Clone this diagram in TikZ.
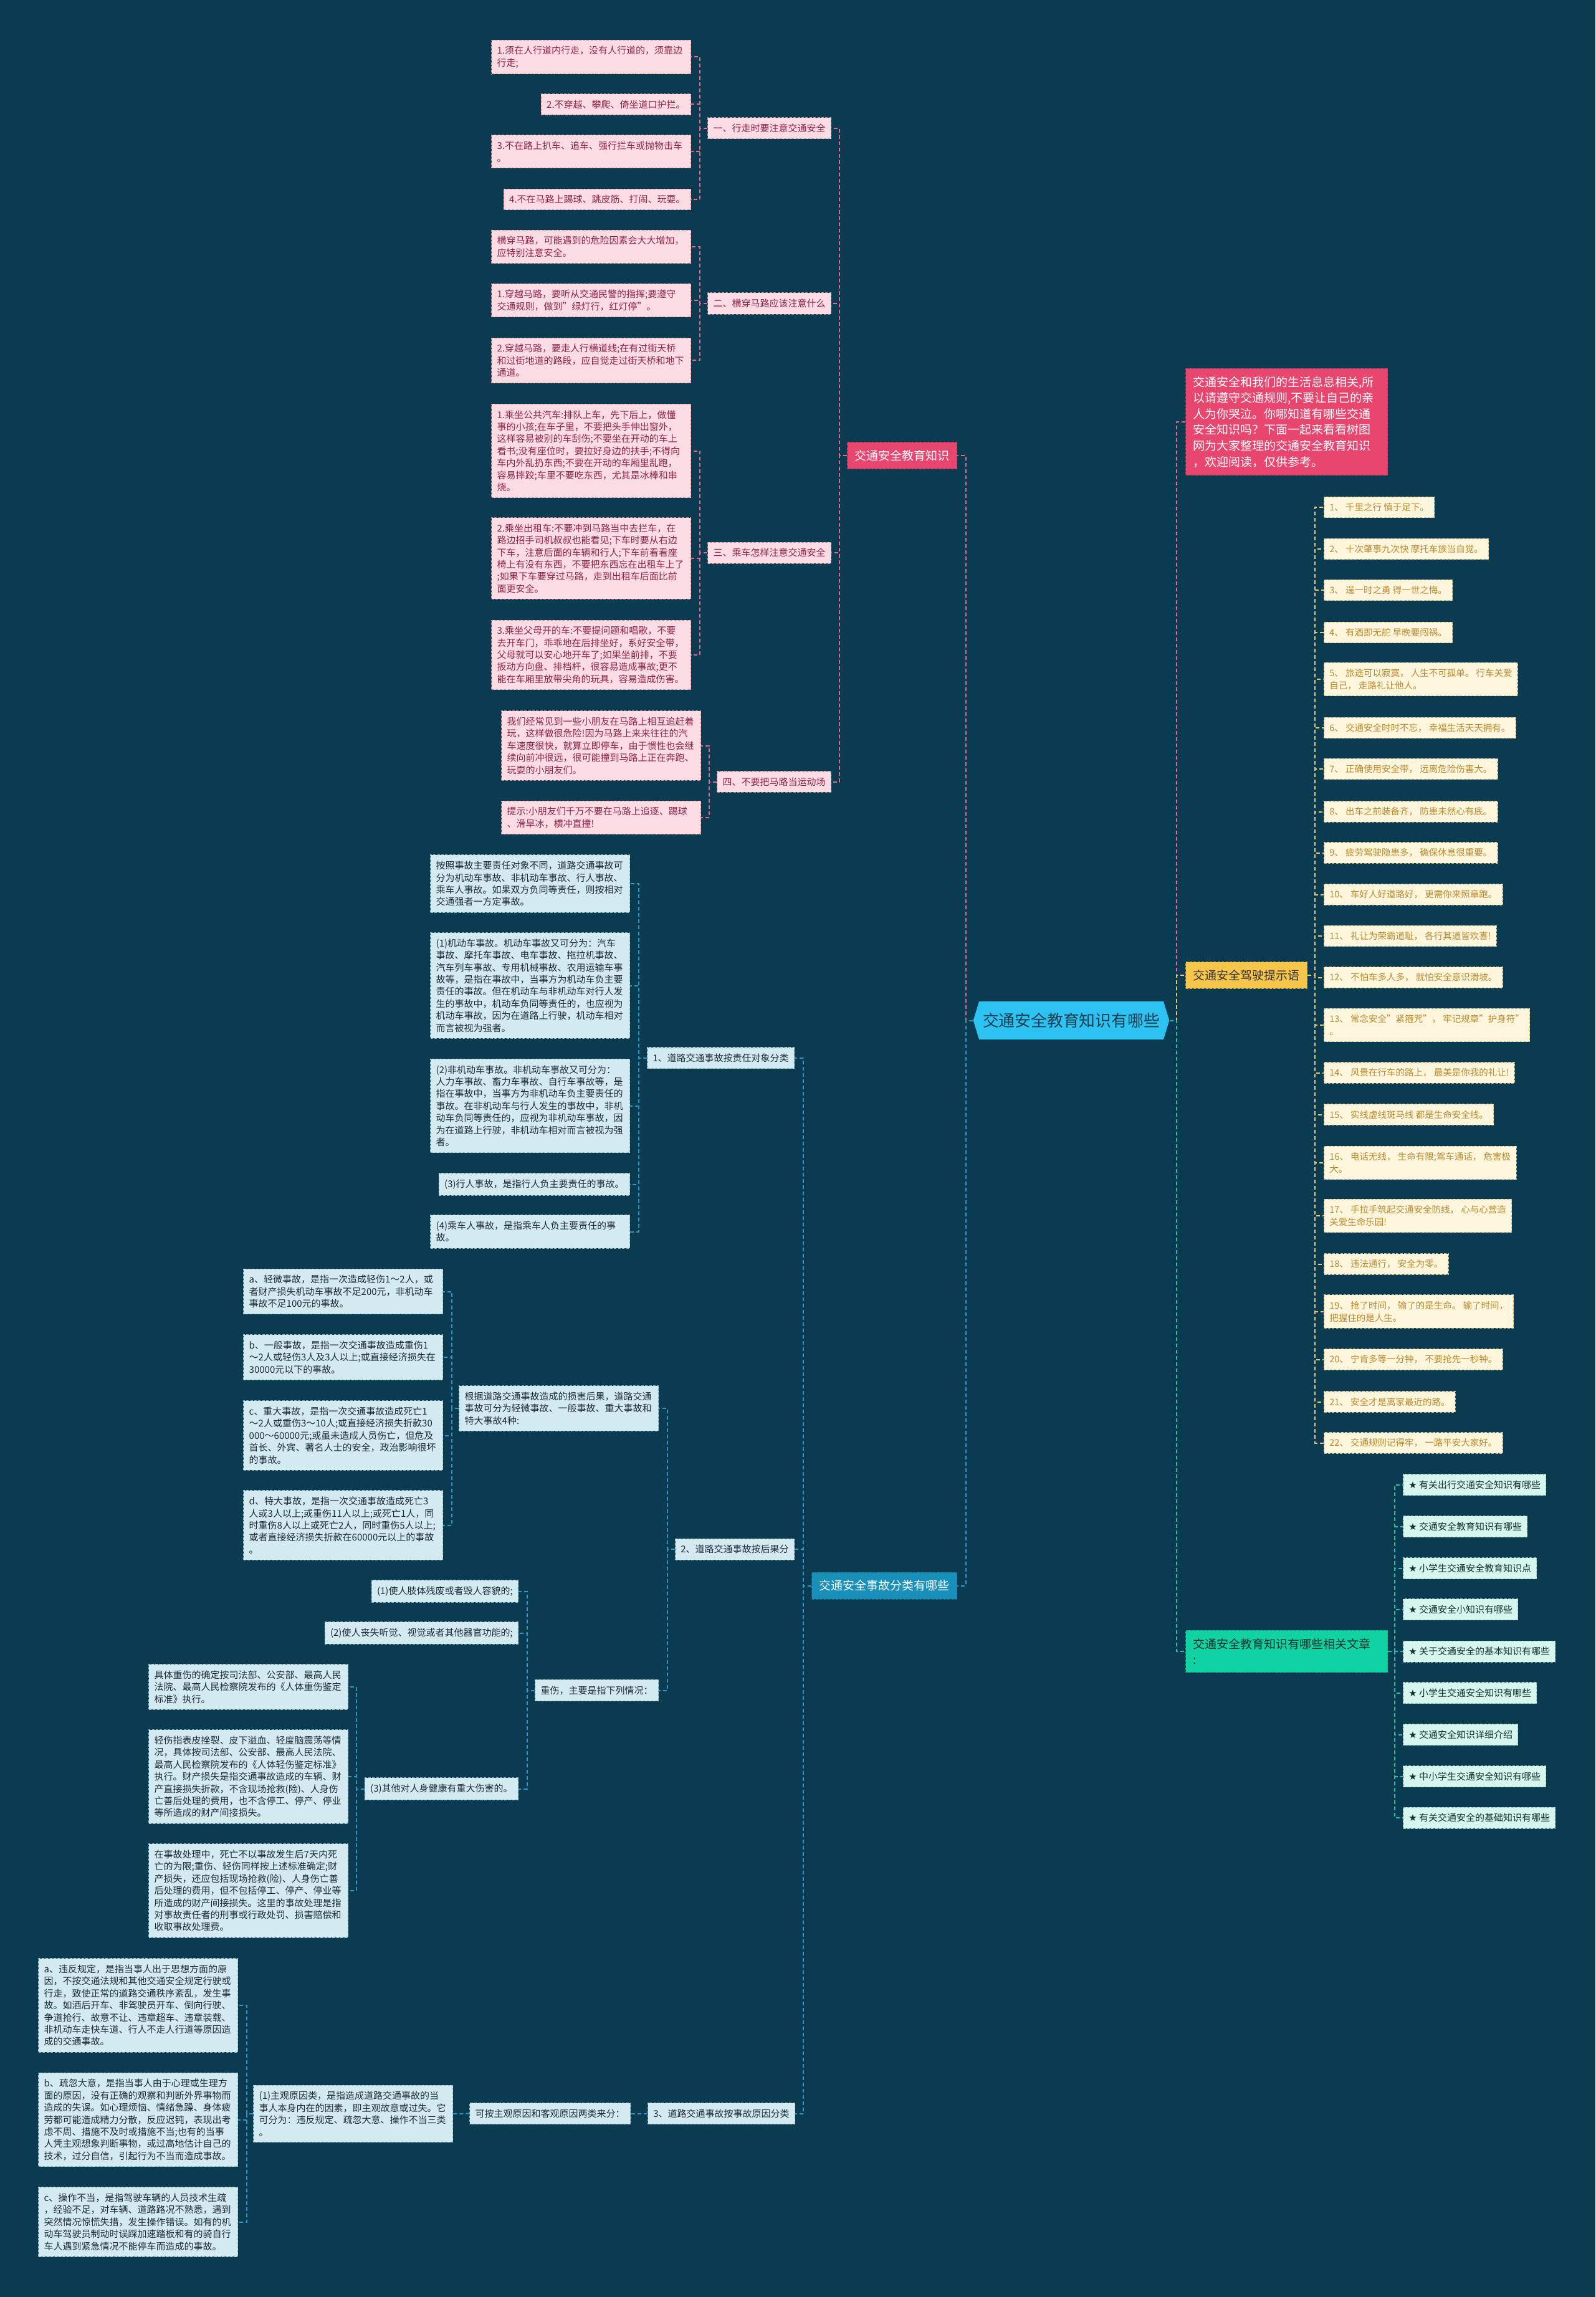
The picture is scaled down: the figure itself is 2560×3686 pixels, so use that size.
\documentclass[tikz,border=0pt]{standalone}
\usepackage{fontspec}
\setmainfont{Noto Sans CJK SC}
\newfontfamily\dejavu{DejaVu Sans}
\usetikzlibrary{shapes.symbols}
\definecolor{bgc}{HTML}{0B3B50}
\definecolor{pinkmain}{HTML}{E8466F}
\definecolor{pinkleaf}{HTML}{FBDCE2}
\definecolor{pinkedge}{HTML}{C98C9C}
\definecolor{pinktext}{HTML}{8E2445}
\definecolor{pinkconn}{HTML}{E0698E}
\definecolor{bluemain}{HTML}{1890B9}
\definecolor{blueleaf}{HTML}{D4EAF1}
\definecolor{blueedge}{HTML}{8DB6C6}
\definecolor{bluetext}{HTML}{1E2B33}
\definecolor{blueconn}{HTML}{2C98C4}
\definecolor{rootc}{HTML}{2CC3F2}
\definecolor{roottext}{HTML}{1B3D50}
\definecolor{ymain}{HTML}{F6C54A}
\definecolor{yleaf}{HTML}{FDF5DC}
\definecolor{yedge}{HTML}{C8B88A}
\definecolor{ytext}{HTML}{B88A2E}
\definecolor{yconn}{HTML}{E9C66B}
\definecolor{gmain}{HTML}{10D3A3}
\definecolor{gleaf}{HTML}{D6F6EE}
\definecolor{gedge}{HTML}{8CC9BA}
\definecolor{gtext}{HTML}{14302C}
\definecolor{gconn}{HTML}{23C2A2}
\begin{document}
\begin{tikzpicture}[x=0.5pt,y=-0.5pt,
  leaf/.style={rectangle, inner xsep=4.4pt, inner ysep=5pt, align=left,
    font=\fontsize{7.5}{9.7}\selectfont, line width=0.5pt, dash pattern=on 2pt off 1.2pt},
  pleaf/.style={leaf, fill=pinkleaf, draw=pinkedge, text=pinktext},
  pwide/.style={pleaf, text width=151pt},
  bleaf/.style={leaf, fill=blueleaf, draw=blueedge, text=bluetext},
  bwide/.style={bleaf, text width=151pt},
  sleaf/.style={leaf, font=\fontsize{7.25}{10}\selectfont, fill=yleaf, draw=yedge, text=ytext},
  aleaf/.style={leaf, fill=gleaf, draw=gedge, text=gtext},
  mainnode/.style={rectangle, inner xsep=6pt, inner ysep=6.3pt, align=left,
    font=\fontsize{9.5}{12.8}\selectfont, line width=0.5pt, dash pattern=on 2pt off 1.2pt},
  conn/.style={line width=1pt, dash pattern=on 3pt off 2pt},
  pconn/.style={conn, draw=pinkconn},
  bconn/.style={conn, draw=blueconn},
  yconnst/.style={conn, draw=yconn},
  gconnst/.style={conn, draw=gconn}]
\useasboundingbox (0,0) rectangle (2560,3686);
\fill[bgc] (0,0) rectangle (2560,3686);

% ---------- root ----------
\node[signal, signal to=west and east, signal pointer angle=146, fill=rootc, text=roottext,
  font=\fontsize{12.9}{15}\selectfont, inner xsep=3pt, inner ysep=9.3pt] (root) at (1719,1637.5) {交通安全教育知识有哪些};

% ---------- pink section ----------
\node[mainnode, anchor=west, fill=pinkmain, draw=pinkmain!80!black, text=white] (PM) at (1359,731) {交通安全教育知识};

\node[pleaf, anchor=east] (H1) at (1334,206) {一、行走时要注意交通安全};
\node[pwide, anchor=east] (P1a) at (1109,91.5) {1.须在人行道内行走，没有人行道的，须靠边\\行走;};
\node[pleaf, anchor=east] (P1b) at (1109,167.5) {2.不穿越、攀爬、倚坐道口护拦。};
\node[pwide, anchor=east] (P1c) at (1109,243.5) {3.不在路上扒车、追车、强行拦车或抛物击车\\。};
\node[pleaf, anchor=east] (P1d) at (1109,320) {4.不在马路上踢球、跳皮筋、打闹、玩耍。};

\node[pleaf, anchor=east] (H2) at (1334,487) {二、横穿马路应该注意什么};
\node[pwide, anchor=east] (P2a) at (1109,396) {横穿马路，可能遇到的危险因素会大大增加，\\应特别注意安全。};
\node[pwide, anchor=east] (P2b) at (1109,482) {1.穿越马路，要听从交通民警的指挥;要遵守\\交通规则，做到"绿灯行，红灯停"。};
\node[pwide, anchor=east] (P2c) at (1109,578.5) {2.穿越马路，要走人行横道线;在有过街天桥\\和过街地道的路段，应自觉走过街天桥和地下\\通道。};

\node[pleaf, anchor=east] (H3) at (1334,887) {三、乘车怎样注意交通安全};
\node[pwide, anchor=east] (P3a) at (1109,723.5) {1.乘坐公共汽车:排队上车，先下后上，做懂\\事的小孩;在车子里，不要把头手伸出窗外，\\这样容易被别的车刮伤;不要坐在开动的车上\\看书;没有座位时，要拉好身边的扶手;不得向\\车内外乱扔东西;不要在开动的车厢里乱跑，\\容易摔跤;车里不要吃东西，尤其是冰棒和串\\烧。};
\node[pwide, anchor=east] (P3b) at (1109,896) {2.乘坐出租车:不要冲到马路当中去拦车，在\\路边招手司机叔叔也能看见;下车时要从右边\\下车，注意后面的车辆和行人;下车前看看座\\椅上有没有东西，不要把东西忘在出租车上了\\;如果下车要穿过马路，走到出租车后面比前\\面更安全。};
\node[pwide, anchor=east] (P3c) at (1109,1051) {3.乘坐父母开的车:不要提问题和唱歌，不要\\去开车门，乖乖地在后排坐好，系好安全带，\\父母就可以安心地开车了;如果坐前排，不要\\扳动方向盘、排档杆，很容易造成事故;更不\\能在车厢里放带尖角的玩具，容易造成伤害。};

\node[pleaf, anchor=east] (H4) at (1334,1254.5) {四、不要把马路当运动场};
\node[pwide, anchor=east] (P4a) at (1125,1196.5) {我们经常见到一些小朋友在马路上相互追赶着\\玩，这样做很危险!因为马路上来来往往的汽\\车速度很快，就算立即停车，由于惯性也会继\\续向前冲很远，很可能撞到马路上正在奔跑、\\玩耍的小朋友们。};
\node[pwide, anchor=east] (P4b) at (1125,1312) {提示:小朋友们千万不要在马路上追逐、踢球\\、滑旱冰，横冲直撞!};

% ---------- blue section ----------
\node[mainnode, anchor=east, fill=bluemain, draw=bluemain!80!black, text=white] (BM) at (1536,2544.5) {交通安全事故分类有哪些};

\node[bleaf, anchor=east] (B1h) at (1275,1697.5) {1、道路交通事故按责任对象分类};
\node[bwide, anchor=east] (b1a) at (1011,1418) {按照事故主要责任对象不同，道路交通事故可\\分为机动车事故、非机动车事故、行人事故、\\乘车人事故。如果双方负同等责任，则按相对\\交通强者一方定事故。};
\node[bwide, anchor=east] (b1b) at (1011,1581.5) {(1)机动车事故。机动车事故又可分为：汽车\\事故、摩托车事故、电车事故、拖拉机事故、\\汽车列车事故、专用机械事故、农用运输车事\\故等，是指在事故中，当事方为机动车负主要\\责任的事故。但在机动车与非机动车对行人发\\生的事故中，机动车负同等责任的，也应视为\\机动车事故，因为在道路上行驶，机动车相对\\而言被视为强者。};
\node[bwide, anchor=east] (b1c) at (1011,1774.5) {(2)非机动车事故。非机动车事故又可分为：\\人力车事故、畜力车事故、自行车事故等，是\\指在事故中，当事方为非机动车负主要责任的\\事故。在非机动车与行人发生的事故中，非机\\动车负同等责任的，应视为非机动车事故，因\\为在道路上行驶，非机动车相对而言被视为强\\者。};
\node[bleaf, anchor=east] (b1d) at (1011,1900.5) {(3)行人事故，是指行人负主要责任的事故。};
\node[bwide, anchor=east] (b1e) at (1011,1976.5) {(4)乘车人事故，是指乘车人负主要责任的事\\故。};

\node[bleaf, anchor=east] (B2h) at (1275,2486) {2、道路交通事故按后果分};
\node[bwide, anchor=east] (B2) at (1057,2260) {根据道路交通事故造成的损害后果，道路交通\\事故可分为轻微事故、一般事故、重大事故和\\特大事故4种:};
\node[bwide, anchor=east] (b2a) at (711,2072.5) {a、轻微事故，是指一次造成轻伤1～2人，或\\者财产损失机动车事故不足200元，非机动车\\事故不足100元的事故。};
\node[bwide, anchor=east] (b2b) at (711,2178) {b、一般事故，是指一次交通事故造成重伤1\\～2人或轻伤3人及3人以上;或直接经济损失在\\30000元以下的事故。};
\node[bwide, anchor=east] (b2c) at (711,2303.5) {c、重大事故，是指一次交通事故造成死亡1\\～2人或重伤3～10人;或直接经济损失折款30\\000～60000元;或虽未造成人员伤亡，但危及\\首长、外宾、著名人士的安全，政治影响很坏\\的事故。};
\node[bwide, anchor=east] (b2d) at (711,2447.5) {d、特大事故，是指一次交通事故造成死亡3\\人或3人以上;或重伤11人以上;或死亡1人，同\\时重伤8人以上或死亡2人，同时重伤5人以上;\\或者直接经济损失折款在60000元以上的事故\\。};

\node[bleaf, anchor=east] (Inj) at (1057,2712.5) {重伤，主要是指下列情况：};
\node[bleaf, anchor=east] (i1) at (832,2553.5) {(1)使人肢体残废或者毁人容貌的;};
\node[bleaf, anchor=east] (i2) at (832,2620.5) {(2)使人丧失听觉、视觉或者其他器官功能的;};
\node[bleaf, anchor=east] (i3) at (832,2870.5) {(3)其他对人身健康有重大伤害的。};
\node[bwide, anchor=east] (i3a) at (559,2707) {具体重伤的确定按司法部、公安部、最高人民\\法院、最高人民检察院发布的《人体重伤鉴定\\标准》执行。};
\node[bwide, anchor=east] (i3b) at (559,2851) {轻伤指表皮挫裂、皮下溢血、轻度脑震荡等情\\况，具体按司法部、公安部、最高人民法院、\\最高人民检察院发布的《人体轻伤鉴定标准》\\执行。财产损失是指交通事故造成的车辆、财\\产直接损失折款，不含现场抢救(险)、人身伤\\亡善后处理的费用，也不含停工、停产、停业\\等所造成的财产间接损失。};
\node[bwide, anchor=east] (i3c) at (559,3034) {在事故处理中，死亡不以事故发生后7天内死\\亡的为限;重伤、轻伤同样按上述标准确定;财\\产损失，还应包括现场抢救(险)、人身伤亡善\\后处理的费用，但不包括停工、停产、停业等\\所造成的财产间接损失。这里的事故处理是指\\对事故责任者的刑事或行政处罚、损害赔偿和\\收取事故处理费。};

\node[bleaf, anchor=east] (B3h) at (1276,3391.5) {3、道路交通事故按事故原因分类};
\node[bleaf, anchor=east] (B3a) at (1012,3391.5) {可按主观原因和客观原因两类来分：};
\node[bwide, anchor=east] (B3b) at (727,3392) {(1)主观原因类，是指造成道路交通事故的当\\事人本身内在的因素，即主观故意或过失。它\\可分为：违反规定、疏忽大意、操作不当三类\\。};
\node[bwide, anchor=east] (c1) at (382,3218) {a、违反规定，是指当事人出于思想方面的原\\因，不按交通法规和其他交通安全规定行驶或\\行走，致使正常的道路交通秩序紊乱，发生事\\故。如酒后开车、非驾驶员开车、倒向行驶、\\争道抢行、故意不让、违章超车、违章装载、\\非机动车走快车道、行人不走人行道等原因造\\成的交通事故。};
\node[bwide, anchor=east] (c2) at (382,3401.5) {b、疏忽大意，是指当事人由于心理或生理方\\面的原因，没有正确的观察和判断外界事物而\\造成的失误。如心理烦恼、情绪急躁、身体疲\\劳都可能造成精力分散，反应迟钝，表现出考\\虑不周、措施不及时或措施不当;也有的当事\\人凭主观想象判断事物，或过高地估计自己的\\技术，过分自信，引起行为不当而造成事故。};
\node[bwide, anchor=east] (c3) at (382,3565.5) {c、操作不当，是指驾驶车辆的人员技术生疏\\，经验不足，对车辆、道路路况不熟悉，遇到\\突然情况惊慌失措，发生操作错误。如有的机\\动车驾驶员制动时误踩加速踏板和有的骑自行\\车人遇到紧急情况不能停车而造成的事故。};

% ---------- right side ----------
\node[mainnode, anchor=west, text width=150pt, fill=pinkmain, draw=pinkmain!80!black, text=white] (intro) at (1902,677) {交通安全和我们的生活息息相关,所\\以请遵守交通规则,不要让自己的亲\\人为你哭泣。你哪知道有哪些交通\\安全知识吗？下面一起来看看树图\\网为大家整理的交通安全教育知识\\，欢迎阅读，仅供参考。};

\node[mainnode, anchor=west, fill=ymain, draw=ymain!80!black, text=black!80] (Y) at (1902,1565) {交通安全驾驶提示语};
\node[sleaf, anchor=west] (s1) at (2124,814) {1、 千里之行 慎于足下。};
\node[sleaf, anchor=west] (s2) at (2124,881) {2、 十次肇事九次快 摩托车族当自觉。};
\node[sleaf, anchor=west] (s3) at (2124,947) {3、 逞一时之勇 得一世之悔。};
\node[sleaf, anchor=west] (s4) at (2124,1015) {4、 有酒即无舵 早晚要闯祸。};
\node[sleaf, anchor=west] (s5) at (2124,1090) {5、 旅途可以寂寞， 人生不可孤单。 行车关爱\\自己， 走路礼让他人。};
\node[sleaf, anchor=west] (s6) at (2124,1168) {6、 交通安全时时不忘， 幸福生活天天拥有。};
\node[sleaf, anchor=west] (s7) at (2124,1234) {7、 正确使用安全带， 远离危险伤害大。};
\node[sleaf, anchor=west] (s8) at (2124,1302.5) {8、 出车之前装备齐， 防患未然心有底。};
\node[sleaf, anchor=west] (s9) at (2124,1368.5) {9、 疲劳驾驶隐患多， 确保休息很重要。};
\node[sleaf, anchor=west] (s10) at (2124,1435.5) {10、 车好人好道路好， 更需你来照章跑。};
\node[sleaf, anchor=west] (s11) at (2124,1502) {11、 礼让为荣霸道耻， 各行其道皆欢喜!};
\node[sleaf, anchor=west] (s12) at (2124,1568.5) {12、 不怕车多人多， 就怕安全意识滑坡。};
\node[sleaf, anchor=west] (s13) at (2124,1645) {13、 常念安全"紧箍咒"， 牢记规章"护身符"\\。};
\node[sleaf, anchor=west] (s14) at (2124,1721.5) {14、 风景在行车的路上， 最美是你我的礼让!};
\node[sleaf, anchor=west] (s15) at (2124,1788.5) {15、 实线虚线斑马线 都是生命安全线。};
\node[sleaf, anchor=west] (s16) at (2124,1866) {16、 电话无线， 生命有限;驾车通话， 危害极\\大。};
\node[sleaf, anchor=west] (s17) at (2124,1951) {17、 手拉手筑起交通安全防线， 心与心营造\\关爱生命乐园!};
\node[sleaf, anchor=west] (s18) at (2124,2028.5) {18、 违法通行， 安全为零。};
\node[sleaf, anchor=west] (s19) at (2124,2104.5) {19、 抢了时间， 输了的是生命。 输了时间，\\把握住的是人生。};
\node[sleaf, anchor=west] (s20) at (2124,2181.5) {20、 宁肯多等一分钟， 不要抢先一秒钟。};
\node[sleaf, anchor=west] (s21) at (2124,2249.5) {21、 安全才是离家最近的路。};
\node[sleaf, anchor=west] (s22) at (2124,2315.5) {22、 交通规则记得牢， 一路平安大家好。};

\node[mainnode, anchor=west, text width=150pt, fill=gmain, draw=gmain!80!black, text=gtext] (G) at (1902,2650) {交通安全教育知识有哪些相关文章\\:};
\node[aleaf, anchor=west] (a1) at (2251,2382.5) {{\dejavu ★} 有关出行交通安全知识有哪些};
\node[aleaf, anchor=west] (a2) at (2251,2449.5) {{\dejavu ★} 交通安全教育知识有哪些};
\node[aleaf, anchor=west] (a3) at (2251,2516.5) {{\dejavu ★} 小学生交通安全教育知识点};
\node[aleaf, anchor=west] (a4) at (2251,2582.5) {{\dejavu ★} 交通安全小知识有哪些};
\node[aleaf, anchor=west] (a5) at (2251,2650) {{\dejavu ★} 关于交通安全的基本知识有哪些};
\node[aleaf, anchor=west] (a6) at (2251,2716.5) {{\dejavu ★} 小学生交通安全知识有哪些};
\node[aleaf, anchor=west] (a7) at (2251,2783.5) {{\dejavu ★} 交通安全知识详细介绍};
\node[aleaf, anchor=west] (a8) at (2251,2850.5) {{\dejavu ★} 中小学生交通安全知识有哪些};
\node[aleaf, anchor=west] (a9) at (2251,2917) {{\dejavu ★} 有关交通安全的基础知识有哪些};

% ---------- connectors ----------
\draw[pconn] (root.west) -- (1550,0 |- root.west) |- (PM.east);
\draw[bconn] (root.west) -- (1550,0 |- root.west) |- (BM.east);
\draw[pconn] (root.east) -- (1888,0 |- root.east) |- (intro.west);
\draw[yconnst] (root.east) -- (1888,0 |- root.east) |- (Y.west);
\draw[gconnst] (root.east) -- (1888,0 |- root.east) |- (G.west);

\foreach \c in {H1,H2,H3,H4} \draw[pconn] (PM.west) -- (1347,0 |- PM.west) |- (\c.east);
\foreach \c in {P1a,P1b,P1c,P1d} \draw[pconn] (H1.west) -- (1123,0 |- H1.west) |- (\c.east);
\foreach \c in {P2a,P2b,P2c} \draw[pconn] (H2.west) -- (1123,0 |- H2.west) |- (\c.east);
\foreach \c in {P3a,P3b,P3c} \draw[pconn] (H3.west) -- (1123,0 |- H3.west) |- (\c.east);
\foreach \c in {P4a,P4b} \draw[pconn] (H4.west) -- (1138,0 |- H4.west) |- (\c.east);

\foreach \c in {B1h,B2h,B3h} \draw[bconn] (BM.west) -- (1289,0 |- BM.west) |- (\c.east);
\foreach \c in {b1a,b1b,b1c,b1d,b1e} \draw[bconn] (B1h.west) -- (1025,0 |- B1h.west) |- (\c.east);
\foreach \c in {B2,Inj} \draw[bconn] (B2h.west) -- (1071,0 |- B2h.west) |- (\c.east);
\foreach \c in {b2a,b2b,b2c,b2d} \draw[bconn] (B2.west) -- (725,0 |- B2.west) |- (\c.east);
\foreach \c in {i1,i2,i3} \draw[bconn] (Inj.west) -- (846,0 |- Inj.west) |- (\c.east);
\foreach \c in {i3a,i3b,i3c} \draw[bconn] (i3.west) -- (572,0 |- i3.west) |- (\c.east);
\draw[bconn] (B3h.west) -- (B3a.east);
\draw[bconn] (B3a.west) -- (B3b.east);
\foreach \c in {c1,c2,c3} \draw[bconn] (B3b.west) -- (396,0 |- B3b.west) |- (\c.east);

\foreach \c in {s1,s2,s3,s4,s5,s6,s7,s8,s9,s10,s11,s12,s13,s14,s15,s16,s17,s18,s19,s20,s21,s22}
  \draw[yconnst] (Y.east) -- (2110,0 |- Y.east) |- (\c.west);
\foreach \c in {a1,a2,a3,a4,a5,a6,a7,a8,a9}
  \draw[gconnst] (G.east) -- (2238,0 |- G.east) |- (\c.west);
\end{tikzpicture}
\end{document}
